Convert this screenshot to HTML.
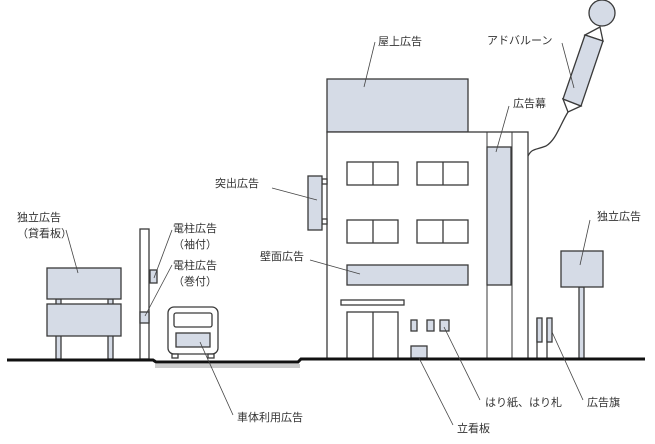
<!DOCTYPE html>
<html><head><meta charset="utf-8"><style>
body{margin:0;background:#fff}
svg{display:block}
text{font-family:"Liberation Sans","Noto Sans CJK JP",sans-serif;font-size:11px;fill:#333}
</style></head><body>
<svg width="655" height="444" viewBox="0 0 655 444" xmlns="http://www.w3.org/2000/svg">
<g stroke="#3a3a3a" stroke-width="1.3" fill="#d5dbe6">
<!-- balloon -->
<circle cx="602" cy="13" r="13"/>
<polygon points="585,35 600,27 603,41" fill="#fff"/>
<polygon points="563,99 568,112 581,106" fill="#fff"/>
<polygon points="585,35 603,41 581,106 563,99"/>
<path d="M568,112 C560,125 556,140 546,146 C536,150 532,148 528,156" fill="none"/>
<!-- building -->
<rect x="327" y="79" width="141" height="53"/>
<rect x="327" y="132" width="201" height="227" fill="#fff"/>
<line x1="487" y1="132" x2="487" y2="359" stroke-width="1"/>
<line x1="512" y1="132" x2="512" y2="359" stroke-width="1"/>
<rect x="487" y="147" width="24" height="138"/>
<g fill="#fff">
<rect x="347" y="162" width="51" height="23"/><line x1="373" y1="162" x2="373" y2="185"/>
<rect x="417" y="162" width="51" height="23"/><line x1="443" y1="162" x2="443" y2="185"/>
<rect x="347" y="220" width="51" height="23"/><line x1="373" y1="220" x2="373" y2="243"/>
<rect x="417" y="220" width="51" height="23"/><line x1="443" y1="220" x2="443" y2="243"/>
<rect x="341" y="300" width="63" height="5"/>
<rect x="347" y="312" width="51" height="47"/><line x1="373" y1="312" x2="373" y2="359"/>
</g>
<rect x="347" y="265" width="121" height="20"/>
<rect x="411" y="320" width="6" height="11"/><rect x="427" y="320" width="7" height="11"/><rect x="440" y="320" width="9" height="11"/>
<rect x="411" y="346" width="16" height="12"/>
<!-- projecting sign -->
<rect x="322" y="179" width="5" height="5" fill="#fff"/><rect x="322" y="219" width="5" height="5" fill="#fff"/>
<rect x="308" y="176" width="14" height="54"/>
<!-- right independent -->
<rect x="579" y="287" width="5" height="72"/>
<rect x="561" y="251" width="42" height="36"/>
<!-- flags -->
<line x1="537" y1="318" x2="537" y2="359"/><line x1="547" y1="318" x2="547" y2="359"/>
<rect x="537" y="318" width="5" height="24"/><rect x="547" y="318" width="5" height="24"/>
<!-- left billboard -->
<rect x="56" y="299" width="5" height="60"/><rect x="108" y="299" width="5" height="60"/>
<rect x="47" y="268" width="74" height="31"/>
<rect x="47" y="304" width="74" height="32"/>
<!-- pole -->
<rect x="140" y="229" width="9" height="130" fill="#fff"/>
<rect x="150" y="270" width="7" height="13"/>
<rect x="140" y="312" width="9" height="11"/>
<!-- truck -->
<rect x="168" y="307" width="50" height="47" rx="6" fill="#fff"/>
<rect x="174" y="313" width="38" height="14" rx="2" fill="#fff"/>
<rect x="176" y="333" width="34" height="14"/>
<rect x="172" y="354" width="6" height="4" fill="#fff"/><rect x="208" y="354" width="6" height="4" fill="#fff"/>
</g>
<!-- ground -->
<rect x="155" y="364" width="145" height="4" fill="#ccc"/>
<path d="M7,360 H153 L156,362 H298 L301,359 H645" stroke="#111" stroke-width="3" fill="none"/>
<!-- leaders -->
<g stroke="#444" stroke-width="0.8">
<line x1="375" y1="42" x2="364" y2="87"/>
<line x1="562" y1="43" x2="574" y2="88"/>
<line x1="509" y1="106" x2="496" y2="152"/>
<line x1="590" y1="220" x2="580" y2="265"/>
<line x1="583" y1="400" x2="552" y2="332"/>
<line x1="480" y1="400" x2="444" y2="327"/>
<line x1="453" y1="425" x2="419" y2="358"/>
<line x1="233" y1="415" x2="200" y2="342"/>
<line x1="310" y1="260" x2="360" y2="274"/>
<line x1="272" y1="188" x2="317" y2="200"/>
<line x1="66" y1="230" x2="78" y2="273"/>
<line x1="172" y1="230" x2="154" y2="278"/>
<line x1="172" y1="265" x2="145" y2="316"/>
</g>
<text x="378" y="45">屋上広告</text>
<text x="487" y="44">アドバルーン</text>
<text x="513" y="107">広告幕</text>
<text x="597" y="220">独立広告</text>
<text x="215" y="187">突出広告</text>
<text x="260" y="260">壁面広告</text>
<text x="17" y="221">独立広告</text>
<text x="17" y="237">（貸看板）</text>
<text x="173" y="232">電柱広告</text>
<text x="173" y="248">（袖付）</text>
<text x="173" y="269">電柱広告</text>
<text x="173" y="285">（巻付）</text>
<text x="237" y="421">車体利用広告</text>
<text x="485" y="406">はり紙、はり札</text>
<text x="587" y="406">広告旗</text>
<text x="457" y="432">立看板</text>
</svg>
</body></html>
